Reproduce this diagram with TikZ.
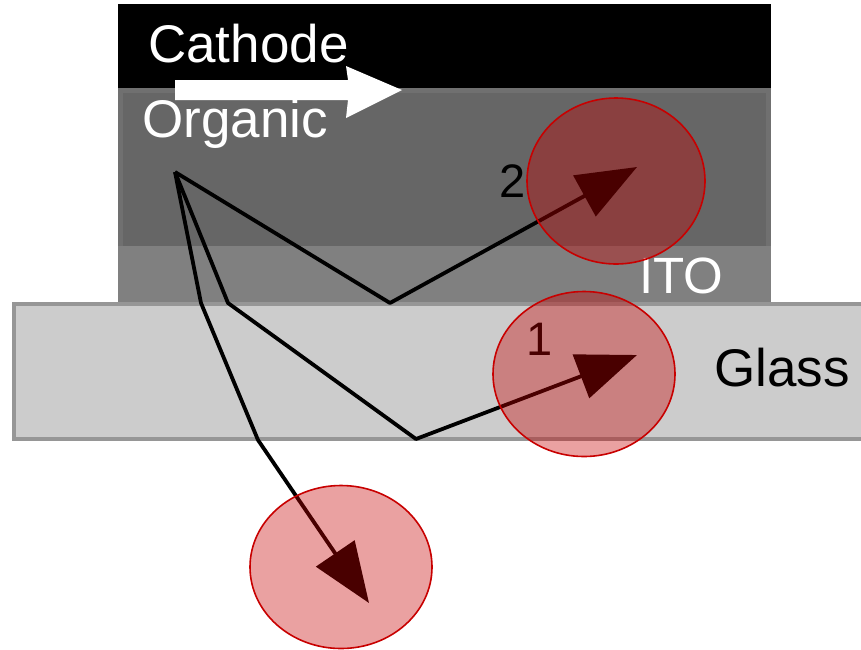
\documentclass[tikz,border=0pt]{standalone}
\usepackage{fontspec}
\setmainfont{Liberation Sans}
\usetikzlibrary{arrows.meta,shapes.geometric}
\definecolor{cathodec}{RGB}{0,0,0}
\definecolor{orgedge}{RGB}{112,112,112}
\definecolor{orgc}{RGB}{102,102,102}
\definecolor{itoc}{RGB}{128,128,128}
\definecolor{glassc}{RGB}{204,204,204}
\definecolor{glassedge}{RGB}{150,150,150}
\definecolor{spotred}{RGB}{200,0,0}
\tikzset{
  lbl/.style={anchor=base west, inner sep=0pt, font=\fontsize{53}{60}\selectfont},
  numlbl/.style={anchor=base west, inner sep=0pt, font=\fontsize{47}{55}\selectfont, text=black},
  ray/.style={draw=black, line width=3.8pt, line join=round},
  rayhead/.style={ray, -{Triangle[length=60pt,width=46pt]}},
  spot/.style={ellipse, draw=spotred, line width=1.6pt, fill=spotred, fill opacity=0.37, draw opacity=1, inner sep=0pt}
}
\begin{document}
\begin{tikzpicture}[x=1pt,y=-1pt]
\useasboundingbox (0,0) rectangle (861,649);
\fill[white] (0,0) rectangle (861,649);
% layers
\fill[cathodec] (118,4) rectangle (771,88);
\fill[orgedge] (118,88) rectangle (771,246);
\fill[orgc] (123,93) rectangle (766,246);
\fill[itoc] (118,246) rectangle (771,302);
\fill[glassedge] (12,302) rectangle (861,441);
\fill[glassc] (16,306) rectangle (861,437);
% white arrow
\fill[white] (175,80) -- (348,80) -- (346,66) -- (402,90) -- (346,118) -- (348,100) -- (175,100) -- cycle;
% labels
\node[lbl, text=white] (cathode) at (148,62) {Cathode};
\node[lbl, text=white] (organic) at (142,137) {Organic};
\node[lbl, text=white, font=\fontsize{51}{58}\selectfont] (ito) at (639,293) {ITO};
\node[lbl, text=black] (glass) at (714,386) {Glass};
\node[numlbl] (two) at (499,197) {2};
\node[numlbl] (one) at (526,355) {1};
% rays
\coordinate (src) at (175,172);
\coordinate (b2) at (390,303);
\coordinate (t2) at (637,167);
\coordinate (b1a) at (228,303);
\coordinate (b1b) at (416,439);
\coordinate (t1) at (637,355);
\coordinate (b3a) at (201,303);
\coordinate (b3b) at (258,440);
\coordinate (t3) at (369,603);
\draw[rayhead] (src) -- (b2) -- (t2);
\draw[rayhead] (src) -- (b1a) -- (b1b) -- (t1);
\draw[rayhead] (src) -- (b3a) -- (b3b) -- (t3);
% spots
\node[spot, minimum width=178pt, minimum height=166pt] (c2) at (616,181) {};
\node[spot, minimum width=182pt, minimum height=165pt] (c1) at (584,374) {};
\node[spot, minimum width=182pt, minimum height=163pt] (c3) at (341,567) {};
\end{tikzpicture}
\end{document}
